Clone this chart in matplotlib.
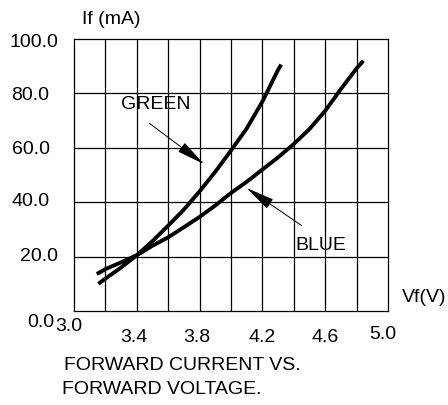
import matplotlib.pyplot as plt
from matplotlib.transforms import offset_copy

plt.rcParams['font.family'] = ['Liberation Sans', 'DejaVu Sans']

# values
green_vf = [3.155, 3.2, 3.3, 3.4, 3.5, 3.6, 3.7, 3.8, 3.9, 4.0, 4.1, 4.2, 4.3, 4.32]
green_if = [10.0, 11.9, 16.0, 20.5, 25.7, 31.4, 37.3, 44.0, 51.2, 59.0, 67.1, 77.0, 88.7, 90.6]
blue_vf = [3.145, 3.2, 3.3, 3.4, 3.5, 3.6, 3.7, 3.8, 3.9, 4.0, 4.1, 4.2, 4.3, 4.4,
           4.5, 4.6, 4.7, 4.8, 4.843]
blue_if = [13.6, 15.4, 17.9, 20.5, 24.0, 27.1, 30.8, 34.6, 38.8, 43.4, 47.5, 52.0, 56.5, 61.4,
           66.9, 73.6, 81.6, 89.2, 92.0]

x_ticks = [3.0, 3.4, 3.8, 4.2, 4.6, 5.0]
x_tick_labels = ['3.0', '3.4', '3.8', '4.2', '4.6', '5.0']
y_ticks = [0, 20, 40, 60, 80, 100]
y_tick_labels = ['0.0', '20.0', '40.0', '60.0', '80.0', '100.0']

green_label = 'GREEN'
blue_label = 'BLUE'
y_title = 'If (mA)'
x_title = 'Vf(V)'
caption = ['FORWARD CURRENT VS.', 'FORWARD VOLTAGE.']

fig = plt.figure(figsize=(4.48, 4.06), dpi=100)
ax = fig.add_axes([0.1652, 0.2315, 0.7009, 0.67])
ax.set_xlim(3.0, 5.0)
ax.set_ylim(0, 100)

# grid
for i in range(1, 10):
    ax.axvline(3.0 + i * 0.2, color='black', lw=0.9, zorder=1)
for v in y_ticks[1:-1]:
    ax.axhline(v, color='black', lw=0.9, zorder=1)
for s in ax.spines.values():
    s.set_linewidth(0.9)
ax.set_xticks([])
ax.set_yticks([])

# curves
ax.plot(green_vf, green_if, color='black', lw=2.8, solid_capstyle='butt',
        solid_joinstyle='round', zorder=3)
ax.plot(blue_vf, blue_if, color='black', lw=2.8, solid_capstyle='butt',
        solid_joinstyle='round', zorder=3)

arrow = dict(arrowstyle='-|>,head_length=1.8,head_width=0.35', mutation_scale=10,
             color='black', lw=0.7, shrinkA=0, shrinkB=0)
ax.annotate('', xy=(3.828, 54.0), xytext=(3.48, 69.0), arrowprops=arrow, zorder=4)
ax.annotate('', xy=(4.10, 45.2), xytext=(4.45, 31.4), arrowprops=arrow, zorder=4)
ax.text(3.522, 76.3, green_label, fontsize=14, ha='center', va='center', zorder=5)
ax.text(4.573, 24.6, blue_label, fontsize=14, ha='center', va='center', zorder=5)

# tick labels (placed like the scanned original)
x_lab_dy = [-14, -25, -25, -25, -25, -22]
x_lab_dx = [-5, -3, -3, 0, 0, -5]
for v, lab, dx, dy in zip(x_ticks, x_tick_labels, x_lab_dx, x_lab_dy):
    tr = offset_copy(ax.get_xaxis_transform(), fig=fig, x=dx, y=dy, units='dots')
    ax.text(v, 0, lab, transform=tr, fontsize=14, ha='center', va='center')

y_lab_x = [-20, -16, -24, -24, -25, -16]
y_lab_dy = [-10, 1, 2, -1, -1, -3]
for v, lab, dx, dy in zip(y_ticks, y_tick_labels, y_lab_x, y_lab_dy):
    tr = offset_copy(ax.get_yaxis_transform(), fig=fig, x=dx, y=dy, units='dots')
    ax.text(0, v, lab, transform=tr, fontsize=14, ha='right', va='center')

fig.text(111 / 448, 1 - 19 / 406, y_title, fontsize=14, ha='center', va='center')
fig.text(424 / 448, 1 - 298 / 406, x_title, fontsize=14, ha='center', va='center')
fig.text(64 / 448, 1 - 366 / 406, caption[0], fontsize=14, ha='left', va='center')
fig.text(62 / 448, 1 - 390 / 406, caption[1], fontsize=14, ha='left', va='center')

fig.savefig('out.png', dpi=100)
